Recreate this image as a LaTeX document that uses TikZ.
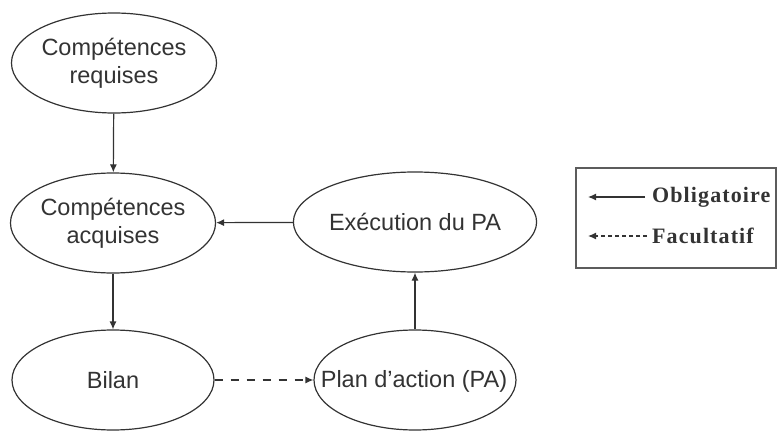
\documentclass[tikz,border=0pt]{standalone}
\usepackage{fontspec}
\setmainfont{Liberation Sans}
\newfontfamily\legfont[LetterSpace=5]{Liberation Serif}
\usetikzlibrary{arrows.meta,shapes.geometric}
\definecolor{ink}{HTML}{333333}
\tikzset{
  oval/.style={ellipse, draw=ink, line width=1.2pt, minimum width=202pt, minimum height=100pt, inner sep=0pt,
    align=center, text=ink, font=\fontsize{23.5}{28}\selectfont},
  flow/.style={draw=ink, line width=1.2pt, -{Latex[length=8pt,width=7pt]}},
  flowdash/.style={flow, dash pattern=on 8pt off 8pt},
  legtext/.style={anchor=west, inner sep=0pt, text=ink, font=\legfont\bfseries\fontsize{22}{24}\selectfont},
}
\begin{document}
\begin{tikzpicture}[x=1pt,y=-1pt]
\useasboundingbox (0,0) rectangle (777,431);
\node[oval] (req) at (114,63) {Compétences\\requises};
\node[oval] (acq) at (113,223) {Compétences\\acquises};
\node[oval] (bil) at (113,380) {Bilan};
\node[oval] (exe) at (415,222) {Exécution du PA};
\node[oval] (pla) at (415,380) {};
\node[text=ink, font=\fontsize{23.5}{28}\selectfont, inner sep=0pt] (plat) at (414,381) {Plan d'action (PA)};
\draw[flow] (req) -- (acq);
\draw[flow] (acq) -- (bil);
\draw[flowdash] (bil) -- (pla);
\draw[flow] (pla) -- (exe);
\draw[flow] (exe) -- (acq);
% legend
\node[draw=ink!80, line width=1.5pt, minimum width=200pt, minimum height=100pt, inner sep=0pt] (leg) at (676,218) {};
\coordinate (o1) at (645,197);
\coordinate (o2) at (588,197);
\coordinate (f1) at (647,236);
\coordinate (f2) at (588,236);
\draw[flow] (o1) -- (o2);
\draw[flow, dash pattern=on 4pt off 3pt] (f1) -- (f2);
\node[legtext] (lo) at (652,197) {Obligatoire};
\node[legtext] (lf) at (652,236) {Facultatif};
\end{tikzpicture}
\end{document}
